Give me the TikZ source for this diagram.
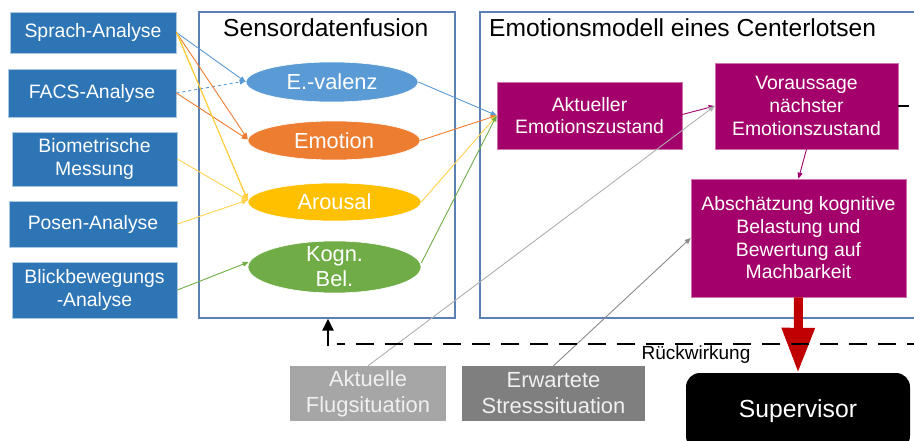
\documentclass[tikz,border=0pt]{standalone}
\usepackage{fontspec}
\setmainfont{Liberation Sans}
\usetikzlibrary{arrows.meta,calc,shapes.geometric}

\definecolor{boxblue}{HTML}{2E75B6}
\definecolor{frameblue}{HTML}{5B80B4}
\definecolor{valblue}{HTML}{5B9BD5}
\definecolor{emoorange}{HTML}{ED7D31}
\definecolor{arogold}{HTML}{FFC000}
\definecolor{arolight}{HTML}{FFD24D}
\definecolor{kogngreen}{HTML}{70AD47}
\definecolor{modelpurple}{HTML}{A3006B}
\definecolor{sitlight}{HTML}{A6A6A6}
\definecolor{sitdark}{HTML}{7F7F7F}
\definecolor{linkgrey}{HTML}{B0B0B0}
\definecolor{linkdark}{HTML}{8A8A8A}
\definecolor{warnred}{HTML}{C00000}

\begin{document}
\begin{tikzpicture}[x=1pt,y=-1pt,
  sensor/.style={fill=boxblue, draw=boxblue!40!white, line width=0.8pt, text=white,
    align=center, inner sep=0pt, font=\fontsize{19.4}{23.5}\selectfont},
  frame/.style={draw=frameblue, line width=1.3pt, inner sep=0pt},
  title/.style={anchor=base west, inner sep=0pt, font=\fontsize{24.6}{28}\selectfont},
  fused/.style={ellipse, inner sep=0pt, draw=white, line width=0.6pt},
  fusedtext/.style={text=white, align=center, inner sep=0pt,
    font=\fontsize{21.8}{25}\selectfont},
  state/.style={fill=modelpurple, draw=modelpurple!55!white, line width=0.6pt, text=white,
    align=center, inner sep=0pt, font=\fontsize{19.4}{22.7}\selectfont},
  situation/.style={text=white!94!black, align=center, inner sep=0pt,
    font=\fontsize{21.9}{26}\selectfont},
  link/.style={line width=0.9pt, -{Triangle[length=6pt,width=5pt]}},
  feedback/.style={line width=2.6pt, black},
]
\clip (0,0) rectangle (914,441);
\fill[white] (0,0) rectangle (914,441);

% frames with titles
\node[frame, minimum width=256pt, minimum height=306pt] (fusion) at (327,165) {};
\node[frame, minimum width=450pt, minimum height=306pt] (model) at (705,165) {};
\node[title] (fusiontitle) at (223,37) {Sensordatenfusion};
\node[title] (modeltitle) at (489,37) {Emotionsmodell eines Centerlotsen};

% sensor sources
\node[sensor, minimum width=166pt, minimum height=41pt] (sprach) at (93,32.5) {Sprach-Analyse};
\node[sensor, minimum width=168pt, minimum height=48pt] (facs) at (92,93) {FACS-Analyse};
\node[sensor, minimum width=165pt, minimum height=54pt] (bio) at (94.5,159) {Biometrische\\Messung};
\node[sensor, minimum width=168pt, minimum height=46pt] (posen) at (93,224) {Posen-Analyse};
\node[sensor, minimum width=165pt, minimum height=56pt] (blick) at (94.5,290) {Blickbewegungs\\-Analyse};

% fused quantities
\node[fused, fill=valblue, minimum width=172pt, minimum height=40pt,
  label={[fusedtext]center:E.-valenz}] (valenz) at (332,82) {};
\node[fused, fill=emoorange, minimum width=172pt, minimum height=39pt,
  label={[fusedtext]center:Emotion}] (emotion) at (334,140.5) {};
\node[fused, fill=arogold, minimum width=173pt, minimum height=38pt,
  label={[fusedtext]center:Arousal}] (arousal) at (334.5,202) {};
\node[fused, fill=kogngreen, minimum width=173pt, minimum height=52pt,
  label={[fusedtext]center:Kogn.\\Bel.}] (kogn) at (334.5,267) {};

% emotion model states
\node[state, minimum width=185pt, minimum height=67pt] (akt) at (589.5,115.5) {Aktueller\\Emotionszustand};
\node[state, minimum width=183pt, minimum height=86pt] (vor) at (806.5,106) {Voraussage\\nächster\\Emotionszustand};
\node[state, minimum width=215pt, minimum height=118pt] (assess) at (798.5,238) {Abschätzung kognitive\\Belastung und\\Bewertung auf\\Machbarkeit};

% situation inputs and supervisor
\node[situation, fill=sitlight, minimum width=156pt, minimum height=55pt] (flug) at (368,393.5) {Aktuelle\\Flugsituation};
\node[situation, fill=sitdark, minimum width=183pt, minimum height=55pt] (stress) at (553.5,393.5) {Erwartete\\Stresssituation};
\node[fill=black, rounded corners=14pt, minimum width=224pt, minimum height=77pt,
  text=white, inner sep=0pt, font=\fontsize{24.7}{28}\selectfont] (super) at (798,411.5) {Supervisor};

% sensors -> fused quantities
\draw[link, valblue] (sprach.east) -- (valenz.west);
\draw[link, valblue, dashed] (facs.east) -- ($(valenz.west)+(0,-1)$);
\draw[link, emoorange] (sprach.east) -- ($(emotion.west)+(0,-1.5)$);
\draw[link, emoorange] (facs.east) -- ($(emotion.west)+(0,-1)$);
\draw[link, arogold] (sprach.east) -- ($(arousal.west)+(0,-2)$);
\draw[link, arolight] ($(sprach.east)+(1,1)$) -- ($(arousal.west)+(0,-1)$);
\draw[link, arolight] (bio.east) -- ($(arousal.west)+(0,-2)$);
\draw[link, arolight] (posen.east) -- ($(arousal.west)+(0,-2)$);
\draw[link, kogngreen] (blick.east) -- ($(kogn.west)+(1,-5)$);

% fused quantities -> current state
\draw[link, valblue] (valenz.east) -- (akt.west);
\draw[link, emoorange] (emotion.east) -- (akt.west);
\draw[link, arolight] (arousal.east) -- (akt.west);
\draw[link, kogngreen] ($(kogn.east)+(0,-4)$) -- (akt.west);

% model chain
\draw[link, modelpurple] ($(akt.east)+(0,-1)$) -- (vor.west);
\draw[link, modelpurple] (vor.south) -- (assess.north);
\draw[link, linkgrey] (flug.north) -- (vor.west);
\draw[link, linkdark] (stress.north) -- (assess.west);

% output to supervisor
\draw[warnred, line width=9pt, -{Triangle[length=45pt,width=31pt]}] (assess.south) -- (super.north);

% feedback path
\coordinate (fbright) at (925,344);
\coordinate (fbleft) at (337,344);
\coordinate (fbup) at (328,346);
\coordinate (stubend) at (909,106);
\draw[feedback, dash pattern=on 18pt off 11pt] (fbright) -- (fbleft);
\draw[feedback, -{Triangle[length=12pt,width=11pt]}] (fbup) -- (fbup |- fusion.south);
\draw[feedback] (vor.east) -- (stubend);
\node[font=\fontsize{19}{22}\selectfont, inner sep=0pt] (rueck) at (696,355) {Rückwirkung};
\end{tikzpicture}
\end{document}
